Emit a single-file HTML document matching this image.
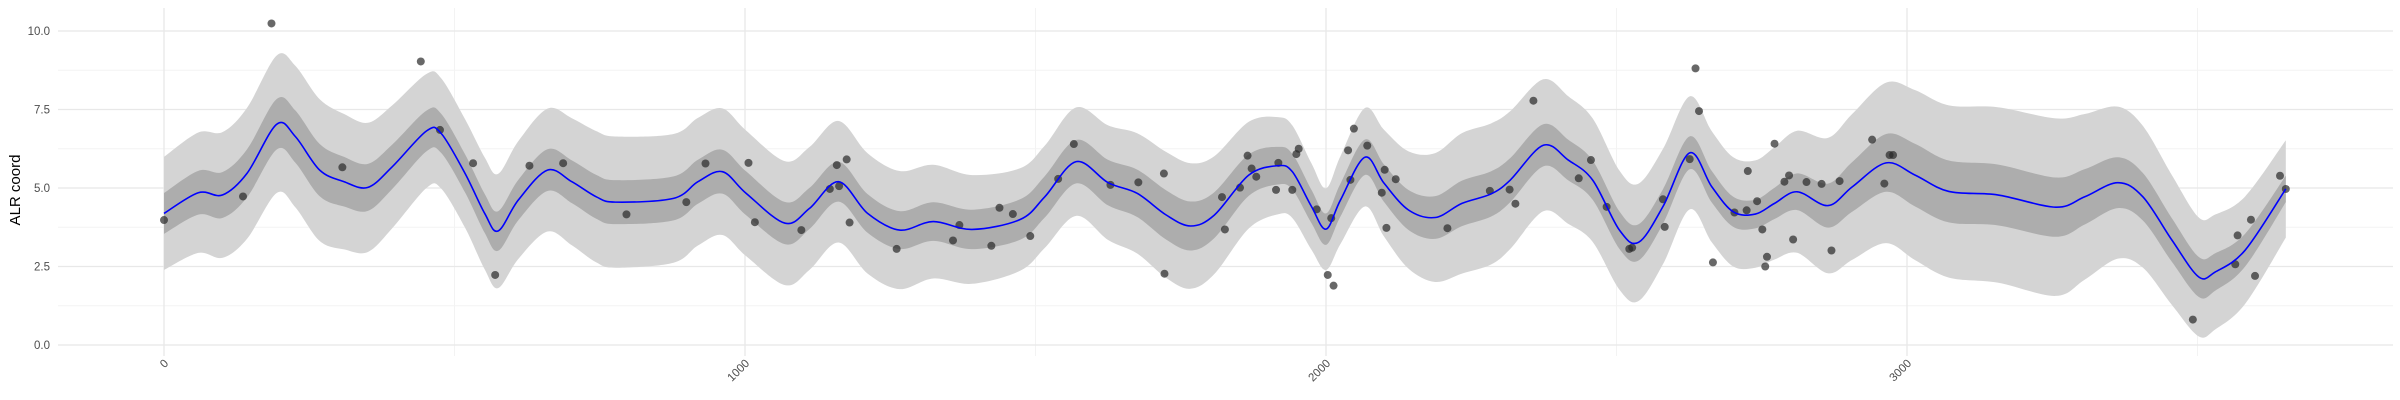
<!DOCTYPE html>
<html><head><meta charset="utf-8"><style>
html,body{margin:0;padding:0;background:#fff;width:2400px;height:400px;overflow:hidden}
svg{display:block;font-family:"Liberation Sans",sans-serif}
</style></head><body>
<svg id="chart" width="2400" height="400" viewBox="0 0 2400 400"></svg>
<script>
const pointX=[0,136,185,307,442,475,532,570,629,687,796,899,932,1006,1017,1097,1146,1158,1162,1175,1180,1261,1358,1369,1424,1438,1461,1491,1539,1566,1629,1677,1721,1722,1821,1826,1852,1865,1872,1880,1914,1918,1942,1949,1953,1984,2003,2009,2013,2038,2042,2048,2071,2096,2101,2104,2120,2209,2282,2316,2326,2357,2435,2456,2483,2522,2527,2580,2583,2626,2636,2642,2666,2703,2724,2726,2742,2751,2756,2759,2772,2789,2797,2804,2827,2853,2870,2884,2940,2961,2970,2976,3492,3565,3569,3592,3599,3642,3652];
const pointY=[3.98,4.73,10.24,5.66,9.03,6.85,5.79,2.23,5.71,5.79,4.16,4.55,5.78,5.80,3.91,3.66,4.97,5.73,5.06,5.91,3.90,3.06,3.33,3.82,3.16,4.37,4.17,3.47,5.29,6.40,5.10,5.18,5.46,2.27,4.71,3.68,5.01,6.03,5.62,5.36,4.94,5.80,4.94,6.08,6.25,4.32,2.23,4.04,1.89,6.20,5.26,6.89,6.35,4.85,5.58,3.73,5.28,3.72,4.91,4.95,4.50,7.78,5.31,5.89,4.40,3.06,3.10,4.64,3.76,5.92,8.81,7.45,2.63,4.22,4.29,5.54,4.58,3.68,2.50,2.81,6.41,5.20,5.40,3.36,5.19,5.13,3.01,5.22,6.54,5.14,6.05,6.05,0.81,2.57,3.49,3.99,2.20,5.39,4.97];
const meanX=[0,59,101,143,194,226,268,310,351,393,452,477,518,552,575,610,660,702,744,777,877,919,961,1002,1069,1111,1161,1211,1266,1324,1391,1474,1516,1570,1625,1675,1725,1767,1808,1867,1917,1942,1975,2000,2025,2067,2100,2142,2188,2234,2284,2317,2374,2417,2459,2505,2538,2580,2626,2664,2701,2739,2772,2811,2864,2906,2964,3014,3072,3156,3256,3306,3363,3406,3456,3502,3531,3582,3652];
const meanY=[4.19,4.85,4.78,5.47,7.03,6.64,5.57,5.20,5.02,5.68,6.82,6.74,5.47,4.19,3.63,4.62,5.57,5.20,4.72,4.55,4.67,5.20,5.52,4.83,3.88,4.35,5.20,4.19,3.66,3.93,3.68,4.00,4.72,5.84,5.17,4.83,4.14,3.79,4.14,5.41,5.71,5.52,4.41,3.69,4.62,5.98,5.15,4.30,4.06,4.51,4.81,5.25,6.36,5.89,5.25,3.66,3.27,4.41,6.12,5.04,4.24,4.17,4.51,4.88,4.44,5.04,5.80,5.41,4.89,4.78,4.39,4.72,5.17,4.72,3.34,2.17,2.33,3.02,4.97];
const bandX=[0,250,500,750,1000,1250,1500,1750,2000,2250,2500,2750,3000,3250,3500,3652];
const innerHalf=[0.65,0.85,0.6,0.7,0.7,0.6,0.65,0.8,0.5,0.74,0.6,0.45,1.0,0.95,0.64,0.42];
const outerHalf=[1.8,2.3,1.7,2.1,2.0,1.9,1.6,2.05,1.3,2.3,1.9,1.7,2.7,2.85,1.9,1.55];
const xTicks=[0,1000,2000,3000];
const yTicks=[0,2.5,5,7.5,10];
const yTickLabels=["0.0","2.5","5.0","7.5","10.0"];

const NS="http://www.w3.org/2000/svg";
const svg=document.getElementById('chart');
const X=v=>164+v*0.581;
const Y=v=>345-v*31.4;
const L={l:58,r:2393,t:8,b:356};
function mk(tag,attrs,parent){const e=document.createElementNS(NS,tag);for(const k in attrs)e.setAttribute(k,attrs[k]);(parent||svg).appendChild(e);return e;}
function interp(xs,ys,x){if(x<=xs[0])return ys[0];for(let i=1;i<xs.length;i++){if(x<=xs[i]){const t=(x-xs[i-1])/(xs[i]-xs[i-1]);return ys[i-1]+t*(ys[i]-ys[i-1]);}}return ys[ys.length-1];}
function smooth(pts){let d=`M${pts[0][0]},${pts[0][1]}`;for(let i=0;i<pts.length-1;i++){const p0=pts[i-1]||pts[i],p1=pts[i],p2=pts[i+1],p3=pts[i+2]||p2;const c1=[p1[0]+(p2[0]-p0[0])/6,p1[1]+(p2[1]-p0[1])/6],c2=[p2[0]-(p3[0]-p1[0])/6,p2[1]-(p3[1]-p1[1])/6];d+=`C${c1[0]},${c1[1]} ${c2[0]},${c2[1]} ${p2[0]},${p2[1]}`;}return d;}

// grid
const grid=mk('g',{});


for(let v=1.25;v<10;v+=2.5){const l=mk('line',{x1:L.l,x2:L.r,y1:Y(v),y2:Y(v),stroke:'#f3f3f3','stroke-width':1},grid);}
for(let v=500;v<4000;v+=1000){const l=mk('line',{x1:X(v),x2:X(v),y1:L.t,y2:L.b,stroke:'#f3f3f3','stroke-width':1},grid);}
yTicks.forEach((v,i)=>{const l=mk('line',{x1:L.l,x2:L.r,y1:Y(v),y2:Y(v),stroke:'#e8e8e8','stroke-width':1.3},grid);
const t=mk('text',{x:50,y:Y(v)+4,'text-anchor':'end','font-size':11.5,fill:'#4d4d4d'});t.textContent=yTickLabels[i];});
xTicks.forEach(v=>{const l=mk('line',{x1:X(v),x2:X(v),y1:L.t,y2:L.b,stroke:'#e8e8e8','stroke-width':1.3},grid);
const t=mk('text',{x:X(v)+5,y:364,'text-anchor':'end','font-size':11.5,fill:'#4d4d4d',transform:`rotate(-45 ${X(v)+5} 364)`});t.textContent=String(v);});

// bands
function band(hs,fill,name){const up=meanX.map((x,i)=>[X(x),Y(meanY[i]+interp(bandX,hs,x))]);const lo=meanX.map((x,i)=>[X(x),Y(meanY[i]-interp(bandX,hs,x))]).reverse();
let d=smooth(up);d+=' L'+lo[0][0]+','+lo[0][1]+smooth(lo).slice(smooth(lo).indexOf('C'))+'Z';
const p=mk('path',{d:d,fill:fill,stroke:'none'});}
band(outerHalf,'#d4d4d4','outer-credible-band');
band(innerHalf,'#adadad','inner-credible-band');

// points
pointX.forEach((x,i)=>{const c=mk('circle',{cx:X(x),cy:Y(pointY[i]),r:4,fill:'rgba(40,40,40,0.7)'});});

// mean line
const line=mk('path',{d:smooth(meanX.map((x,i)=>[X(x),Y(meanY[i])])),fill:'none',stroke:'#0000ff','stroke-width':1.6});



const yt=mk('text',{x:20,y:190,'text-anchor':'middle','font-size':15,fill:'#000',transform:'rotate(-90 20 190)'});
yt.textContent='ALR coord';


</script>
</body></html>
